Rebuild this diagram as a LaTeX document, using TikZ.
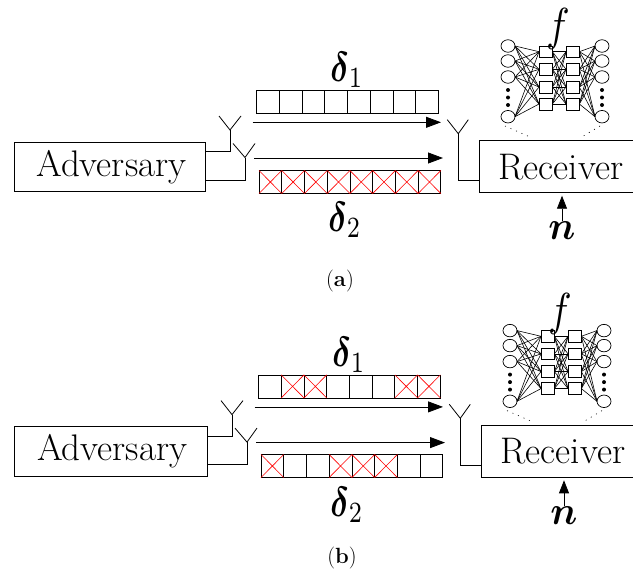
\documentclass[tikz,border=0pt]{standalone}
\usepackage{amsmath}
\usetikzlibrary{shapes.geometric, arrows.meta}
\tikzstyle{block} = [rectangle, minimum height=49.5pt, inner sep=0pt, outer sep=0pt, line width=0.8pt, draw=black, font=\fontsize{37}{40}\selectfont]
\tikzstyle{cell} = [rectangle, minimum width=22.73pt, minimum height=23pt, inner sep=0pt, outer sep=0pt, line width=0.8pt, draw=black]
\tikzstyle{neuron} = [ellipse, minimum width=14pt, minimum height=12.5pt, inner sep=0pt, outer sep=0pt, line width=0.7pt, draw=black]
\tikzstyle{hidden} = [rectangle, minimum width=13.3pt, minimum height=11.7pt, inner sep=0pt, outer sep=0pt, line width=0.7pt, draw=black]
\tikzstyle{dotmark} = [circle, minimum size=4pt, inner sep=0pt, fill=black]
\tikzstyle{biglabel} = [inner sep=0pt, xscale=3.3, yscale=4.2]
\tikzstyle{caption} = [inner sep=0pt, font=\fontsize{22}{24}\selectfont]
\tikzstyle{arrow} = [line width=0.8pt,-{Stealth[length=15pt,width=11pt,inset=0pt]}]
\tikzstyle{wire} = [line width=0.8pt]
\tikzstyle{link} = [line width=0.6pt]
\begin{document}
\begin{tikzpicture}[x=1pt,y=-1pt]
  \useasboundingbox (0,0) rectangle (633,570);

  % the two panels differ only by an offset and the adversary box
  \foreach \p/\dx/\dy/\advw/\capy in {a/0/0/191.7/281,b/2/284.6/193.5/273.4} {
    \begin{scope}[shift={(\dx,\dy)}]
      \node (adv\p) [block, anchor=west, minimum width=\advw pt] at (14-\dx,167) {\hspace{3pt}Adversary};
      \node (rx\p) [block, minimum width=164pt, minimum height=52pt] at (561,166.7) {Receiver};

      \coordinate (fork1\p) at (230,130);
      \coordinate (fork2\p) at (245,157.5);
      \coordinate (fork3\p) at (458.3,133.7);
      \coordinate (feed1\p) at (adv\p.east |- 0,151.7);
      \coordinate (feed2\p) at (adv\p.east |- 0,180);
      \coordinate (feed3\p) at (rx\p.west |- 0,180.3);
      \draw [wire] (fork1\p) ++(-11,-14) -- (fork1\p) -- ++(11,-14);
      \draw [wire] (fork2\p) ++(-12,-14) -- (fork2\p) -- ++(10,-14);
      \draw [wire] (fork3\p) ++(-11,-14) -- (fork3\p) -- ++(10,-14);
      \draw [wire] (fork1\p) |- (feed1\p);
      \draw [wire] (fork2\p) |- (feed2\p);
      \draw [wire] (fork3\p) |- (feed3\p);

      \coordinate (txa\p) at (252.7,122.3);
      \coordinate (rxa\p) at (441,122.3);
      \coordinate (txb\p) at (254,158);
      \coordinate (rxb\p) at (443,158);
      \draw [arrow] (txa\p) -- (rxa\p);
      \draw [arrow] (txb\p) -- (rxb\p);

      \node (d1\p) [biglabel] at (347,70) {$\boldsymbol{\delta}_1$};
      \node (d2\p) [biglabel] at (345,220) {$\boldsymbol{\delta}_2$};

      % network above the receiver
      \node (f\p) [biglabel, xscale=1.2, yscale=1.1] at (558,29) {$f$};
      \foreach \j/\y in {1/46,2/61,3/77,4/116.7} {
        \node (in\j\p) [neuron] at (508,\y) {};
        \node (out\j\p) [neuron] at (602,\y) {};
      }
      \foreach \j/\y in {1/51.7,2/69.3,3/87,4/104} {
        \node (hl\j\p) [hidden] at (545.7,\y) {};
        \node (hr\j\p) [hidden] at (572.7,\y) {};
      }
      \foreach \j in {1,2,3,4} {
        \foreach \k in {1,2,3,4} {
          \draw [link] (in\j\p.east) -- (hl\k\p.west);
          \draw [link] (hl\j\p.east) -- (hr\k\p.west);
          \draw [link] (hr\j\p.east) -- (out\k\p.west);
        }
      }
      \foreach \j/\y in {1/90,2/97.5,3/105} {
        \node (dl\j\p) [dotmark] at (508,\y) {};
        \node (dr\j\p) [dotmark] at (602,\y) {};
      }
      \coordinate (zoomla\p) at (505,126);
      \coordinate (zoomlb\p) at (530,137);
      \coordinate (zoomra\p) at (600,126);
      \coordinate (zoomrb\p) at (581.7,137);
      \draw [link, dash pattern=on 1pt off 5pt] (zoomla\p) -- (zoomlb\p);
      \draw [link, dash pattern=on 1pt off 5pt] (zoomra\p) -- (zoomrb\p);

      \node (n\p) [biglabel, xscale=1.15, yscale=0.95] at (562,231) {$\boldsymbol{n}$};
      \draw [arrow, shorten >=3pt, -{Stealth[length=13pt,width=10pt,inset=0pt]}] (n\p.north) -- (rx\p.south -| n\p.north);

      \node (cap\p) [caption] at (340,\capy) {(\textbf{\p})};
    \end{scope}
  }

  % packet rows, crossed cells are lost
  \foreach \r/\x/\y/\marked in {at/256.7/101.5/0,ab/259/182/{1,...,8},bt/258.5/386.4/{2,3,7,8},bb/261/466/{1,4,5,6}} {
    \foreach \i in {1,...,8} {
      \node (\r\i) [cell] at ({\x+(\i-0.5)*22.73},\y) {};
    }
    \foreach \i in \marked {
      \ifnum\i>0
        \draw [red, line width=0.6pt] (\r\i.north west) -- (\r\i.south east) (\r\i.north east) -- (\r\i.south west);
      \fi
    }
  }
\end{tikzpicture}
\end{document}
